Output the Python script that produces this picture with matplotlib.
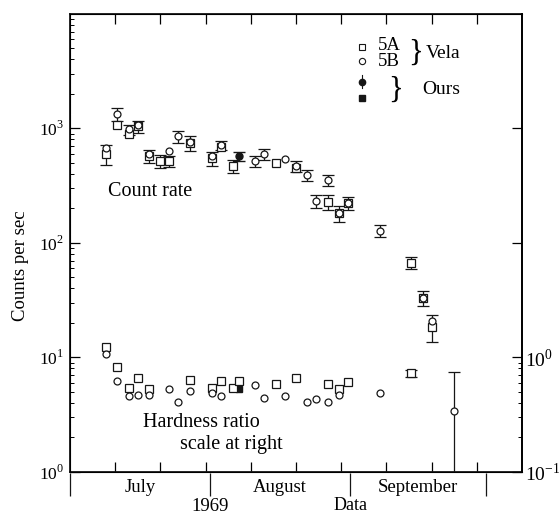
import numpy as np
import matplotlib
matplotlib.use('Agg')
import matplotlib.pyplot as plt
from matplotlib.ticker import FixedLocator, NullFormatter, LogLocator

plt.rcParams['font.family'] = ['Liberation Serif', 'DejaVu Serif']
plt.rcParams['mathtext.fontset'] = 'custom'
plt.rcParams['mathtext.rm'] = 'Liberation Serif'

nan = np.nan

# days counted from 1 July 1969
# count rate, Vela 5A (squares)
a_day = [8, 10.5, 13, 15, 17.5, 20, 22, 26.5, 31.5, 33.5, 36, 45.5, 50, 57, 59.5, 61.5, 75.5, 78, 80]
a_rate = [594, 1062, 887, 1041, 571, 517, 517, 741, 548, 684, 467, 496, 450, 227, 182, 223, 67, 33, 18.6]
a_err = [120, nan, nan, 130, 70, 65, 60, 110, 80, nan, 60, nan, nan, 35, 30, 30, 8, 5, 5]

# count rate, Vela 5B (circles)
b_day = [8, 10.5, 13, 15, 17.5, 22, 24, 26.5, 31.5, 33.5, 41, 43, 47.5, 50, 52.5, 54.5, 57, 59.5, 61.5, 68.5, 78, 80]
b_rate = [670, 1324, 980, 1060, 594, 631, 851, 760, 570, 711, 517, 594, 538, 467, 390, 232, 353, 182, 223, 127, 33, 20.6]
b_err = [nan, 170, 100, nan, nan, nan, 100, nan, nan, 70, 60, 60, nan, 50, 40, 30, 40, nan, nan, 15, nan, nan]

# count rate, our measurement
o_day = [37.5]
o_rate = [571]
o_err = [55]

# hardness ratio, Vela 5A
ha_day = [8, 10.5, 13, 15, 17.5, 26.5, 31.5, 33.5, 36, 37.5, 45.5, 50, 57, 59.5, 61.5, 75.5]
ha_val = [1.22, 0.82, 0.54, 0.66, 0.53, 0.63, 0.54, 0.62, 0.54, 0.62, 0.59, 0.66, 0.59, 0.53, 0.61, 0.73]
ha_err = [nan] * 15 + [0.05]

# hardness ratio, Vela 5B
hb_day = [8, 10.5, 13, 15, 17.5, 22, 24, 26.5, 31.5, 33.5, 41, 43, 47.5, 52.5, 54.5, 57, 59.5, 68.5, 85]
hb_val = [1.08, 0.62, 0.46, 0.47, 0.47, 0.53, 0.41, 0.51, 0.49, 0.46, 0.57, 0.44, 0.46, 0.41, 0.43, 0.41, 0.47, 0.49, 0.34]
hb_lo = [nan] * 18 + [0.335]
hb_hi = [nan] * 18 + [0.40]

# hardness ratio, our measurement
ho_day = [37.5]
ho_val = [0.53]

month_edges = [0, 31, 62, 92]
month_names = ['July', 'August', 'September']
day_ticks = [10, 20, 30, 40, 50, 60, 70, 80, 90]

ink = '#161616'

fig = plt.figure(figsize=(5.59, 5.14), dpi=100)
ax = fig.add_axes([0.125, 0.082, 0.809, 0.891])

eb = dict(color=ink, capsize=4, elinewidth=0.9, capthick=0.9, linestyle='none')
sq = dict(marker='s', markersize=6, markerfacecolor='white', markeredgecolor=ink, markeredgewidth=0.9)
ci = dict(marker='o', markersize=5, markerfacecolor='white', markeredgecolor=ink, markeredgewidth=0.9)

ax.errorbar(a_day, a_rate, yerr=a_err, **eb, **sq)
ax.errorbar(b_day, b_rate, yerr=b_err, **eb, **ci)
ax.errorbar(o_day, o_rate, yerr=o_err, color=ink, capsize=4, elinewidth=0.9,
            linestyle='none', marker='o', markersize=5, markerfacecolor=ink, markeredgecolor=ink)

ax.set_yscale('log')
ax.set_ylim(1, 1e4)
ax.set_xlim(0, 100)
ax.set_yticks([1, 10, 100, 1000])
ax.set_yticklabels([r'$10^{0}$', r'$10^{1}$', r'$10^{2}$', r'$10^{3}$'])
ax.yaxis.set_minor_locator(LogLocator(base=10, subs=np.arange(2, 10)))
ax.yaxis.set_minor_formatter(NullFormatter())
ax.tick_params(axis='y', which='major', direction='in', length=7, width=0.9, labelsize=12.5, pad=4)
ax.tick_params(axis='y', which='minor', direction='in', length=3, width=0.7)

ax.xaxis.set_major_locator(FixedLocator(day_ticks))
ax.tick_params(axis='x', which='major', direction='in', length=7, width=0.9,
               top=True, labelbottom=False)

for s in ax.spines.values():
    s.set_linewidth(1.3)
    s.set_color(ink)

# hardness ratio on the right-hand scale
hx = ax.twinx()
hx.set_yscale('log')
hx.set_ylim(0.1, 1000)
hx.errorbar(ha_day, ha_val, yerr=ha_err, **eb, **sq)
hx.errorbar(hb_day, hb_val, yerr=[hb_lo, hb_hi], **eb, **ci)
hx.plot(ho_day, ho_val, linestyle='none', marker='s', markersize=5, color=ink)
hx.set_yticks([0.1, 1, 10, 100])
hx.set_yticklabels([r'$10^{-1}$', r'$10^{0}$', '', ''])
hx.yaxis.set_minor_locator(FixedLocator(np.arange(2, 10) * 0.1))
hx.yaxis.set_minor_formatter(NullFormatter())
hx.tick_params(axis='y', which='major', direction='in', length=7, width=0.9, labelsize=14, pad=2)
hx.tick_params(axis='y', which='minor', direction='in', length=3, width=0.7)
hx.spines['right'].set_linewidth(1.3)

# month boundaries below the axis
xt = ax.get_xaxis_transform()
ax.vlines(month_edges, -0.052, -0.003, transform=xt, colors=ink, linewidth=0.9, clip_on=False)
for i, name in enumerate(month_names):
    mid = (month_edges[i] + month_edges[i + 1]) / 2
    ax.text(mid, -0.035, name, transform=xt, ha='center', va='center', fontsize=13.5)
ax.text(month_edges[1], -0.075, '1969', transform=xt, ha='center', va='center', fontsize=13.5)
ax.text(62, -0.073, 'Data', transform=xt, ha='center', va='center', fontsize=13)

ax.set_ylabel('Counts per sec', fontsize=13.5)
ax.yaxis.set_label_coords(-0.09, 0.45)

ax.text(0.084, 0.613, 'Count rate', transform=ax.transAxes, fontsize=14.5, va='center')
ax.text(0.161, 0.107, 'Hardness ratio', transform=ax.transAxes, fontsize=14.5, va='center')
ax.text(0.243, 0.059, 'scale at right', transform=ax.transAxes, fontsize=14.5, va='center')

# key
kx = 0.646
ax.plot([kx], [0.928], transform=ax.transAxes, linestyle='none', marker='s', markersize=5,
        markerfacecolor='white', markeredgecolor=ink, markeredgewidth=0.8)
ax.plot([kx], [0.897], transform=ax.transAxes, linestyle='none', marker='o', markersize=4.5,
        markerfacecolor='white', markeredgecolor=ink, markeredgewidth=0.8)
ax.plot([kx, kx], [0.838, 0.866], transform=ax.transAxes, color=ink, linewidth=0.8)
ax.plot([kx], [0.852], transform=ax.transAxes, linestyle='none', marker='o', markersize=4.5, color=ink)
ax.plot([kx], [0.817], transform=ax.transAxes, linestyle='none', marker='s', markersize=4.5, color=ink)
ax.text(0.681, 0.931, '5A', transform=ax.transAxes, fontsize=13.5, va='center')
ax.text(0.681, 0.896, '5B', transform=ax.transAxes, fontsize=13.5, va='center')
ax.text(0.749, 0.913, '}', transform=ax.transAxes, fontsize=22, va='center')
ax.text(0.788, 0.913, 'Vela', transform=ax.transAxes, fontsize=14, va='center')
ax.text(0.704, 0.834, '}', transform=ax.transAxes, fontsize=22, va='center')
ax.text(0.780, 0.834, 'Ours', transform=ax.transAxes, fontsize=14, va='center')

fig.savefig('out.png', dpi=100, facecolor='white')
